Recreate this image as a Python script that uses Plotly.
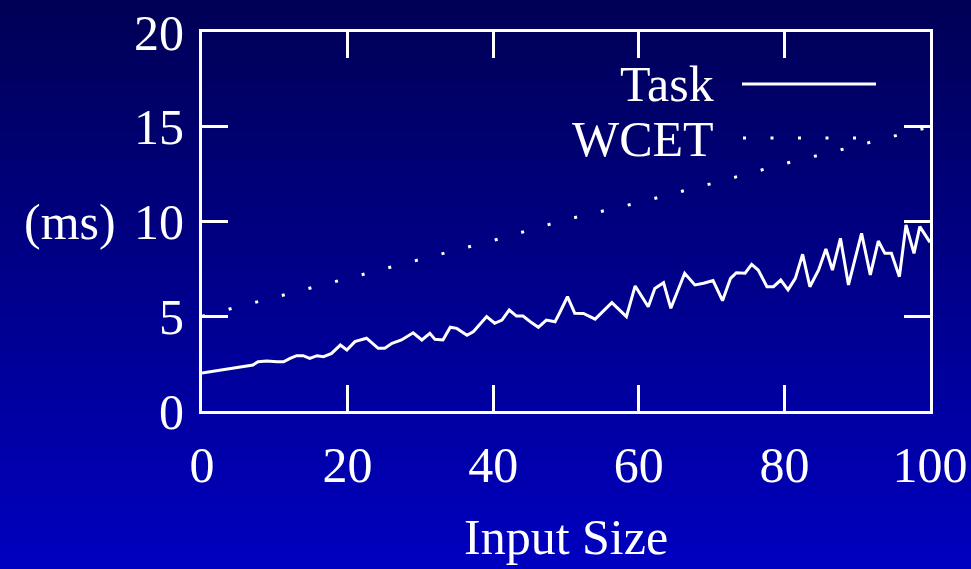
import base64
import struct
import zlib

import plotly.graph_objects as go

# ---------------- data ----------------
task_x = [0, 1.6, 2.5, 3.8, 5.2, 7.0, 7.7, 8.9, 10.3, 11.2,
          12.1, 13.0, 13.9, 14.8, 15.8, 16.7, 17.8, 19.0, 19.9, 21.0,
          22.6, 24.2, 25.1, 26.1, 27.4, 29.0, 30.2, 31.3, 32.0, 33.1,
          34.1, 35.0, 36.4, 37.3, 39.1, 40.2, 41.2, 42.2, 43.2, 44.1,
          45.1, 46.2, 47.3, 48.5, 49.2, 50.2, 51.2, 52.4, 54.0, 56.3,
          58.3, 59.5, 61.3, 62.2, 63.4, 64.4, 66.3, 67.7, 68.9, 70.2,
          71.5, 72.6, 73.4, 74.6, 75.5, 76.4, 77.6, 78.5, 79.5, 80.5,
          81.5, 82.5, 83.5, 84.7, 85.7, 86.6, 87.7, 88.8, 90.6, 91.8,
          92.9, 93.8, 94.7, 95.8, 96.7, 97.8, 98.6, 99.6, 100]
task_ms = [2.0, 2.1, 2.16, 2.25, 2.34, 2.43, 2.6, 2.64, 2.6, 2.6,
           2.78, 2.92, 2.92, 2.78, 2.92, 2.87, 3.04, 3.48, 3.22, 3.66,
           3.84, 3.31, 3.31, 3.57, 3.75, 4.13, 3.75, 4.1, 3.78, 3.75,
           4.42, 4.36, 4.0, 4.19, 4.98, 4.63, 4.8, 5.33, 5.01, 5.01,
           4.71, 4.42, 4.8, 4.71, 5.24, 6.03, 5.16, 5.15, 4.85, 5.72,
           4.98, 6.6, 5.5, 6.47, 6.77, 5.42, 7.27, 6.65, 6.74, 6.88,
           5.82, 7.0, 7.3, 7.27, 7.74, 7.44, 6.56, 6.56, 6.91, 6.39,
           7.0, 8.27, 6.56, 7.44, 8.55, 7.44, 9.11, 6.65, 9.38, 7.18,
           8.97, 8.32, 8.32, 7.09, 9.82, 8.32, 9.73, 9.11, 8.9]

wcet_x = [0, 10, 20, 30, 40, 50, 60, 70, 80, 90, 100]
wcet_ms = [5.0, 6.0, 7.0, 8.0, 9.0, 10.1, 11.0, 12.0, 13.05, 14.0, 15.0]

x_ticks = [0, 20, 40, 60, 80, 100]
y_ticks = [0, 5, 10, 15, 20]
series_names = ["Task", "WCET"]

# ---------------- styling ----------------
W, H = 971, 569
ML, MR, MT, MB = 202, 41, 32, 158
FONT = "Liberation Serif"
FS = 50
DOTS = "3px,24.5px"


def gradient_png(h, top, bottom, w=4):
    raw = b""
    for i in range(h):
        t = i / (h - 1)
        px = bytes(round(top[k] + (bottom[k] - top[k]) * t) for k in range(3))
        raw += b"\x00" + px * w

    def chunk(tag, data):
        return (struct.pack(">I", len(data)) + tag + data
                + struct.pack(">I", zlib.crc32(tag + data) & 0xFFFFFFFF))

    ihdr = struct.pack(">IIBBBBB", w, h, 8, 2, 0, 0, 0)
    png = (b"\x89PNG\r\n\x1a\n" + chunk(b"IHDR", ihdr)
           + chunk(b"IDAT", zlib.compress(raw)) + chunk(b"IEND", b""))
    return "data:image/png;base64," + base64.b64encode(png).decode()


pw = W - ML - MR
ph = H - MT - MB
px0 = -ML / pw
px1 = 1 + MR / pw
py0 = -MB / ph
py1 = 1 + MT / ph


def paper_x(p):
    return (p - ML) / pw


def paper_y(p):
    return (H - MB - p) / ph


fig = go.Figure()
fig.add_trace(go.Scatter(x=task_x, y=task_ms, mode="lines", name=series_names[0],
                         line=dict(color="white", width=3), showlegend=False))
fig.add_trace(go.Scatter(x=wcet_x, y=wcet_ms, mode="lines", name=series_names[1],
                         line=dict(color="white", width=3, dash=DOTS), showlegend=False))

axis_common = dict(showline=True, linecolor="white", linewidth=3, mirror="ticks",
                   ticks="inside", ticklen=26, tickwidth=3, tickcolor="white",
                   showgrid=False, zeroline=False, automargin=False,
                   tickfont=dict(family=FONT, size=FS, color="white"))

fig.update_xaxes(range=[0, 100], tickvals=x_ticks, ticktext=[str(v) for v in x_ticks],
                 ticklabelstandoff=8, **axis_common)
fig.update_yaxes(range=[0, 20], tickvals=y_ticks, ticktext=[str(v) for v in y_ticks],
                 ticklabelstandoff=5, **axis_common)

annotations = [
    dict(text="(ms)", xref="paper", yref="y", x=paper_x(118), y=10,
         xanchor="right", yanchor="middle", showarrow=False),
    dict(text="Input Size", xref="paper", yref="paper", x=0.5, y=paper_y(566),
         xanchor="center", yanchor="bottom", showarrow=False, borderpad=0),
    dict(text=series_names[0], xref="paper", yref="paper", x=paper_x(716), y=paper_y(84),
         xanchor="right", yanchor="middle", showarrow=False),
    dict(text=series_names[1], xref="paper", yref="paper", x=paper_x(716), y=paper_y(139),
         xanchor="right", yanchor="middle", showarrow=False),
]
for a in annotations:
    a["font"] = dict(family=FONT, size=FS, color="white")

shapes = [
    dict(type="line", xref="paper", yref="paper", x0=paper_x(742), x1=paper_x(876),
         y0=paper_y(84), y1=paper_y(84), line=dict(color="white", width=3)),
    dict(type="line", xref="paper", yref="paper", x0=paper_x(743), x1=paper_x(878),
         y0=paper_y(138), y1=paper_y(138), line=dict(color="white", width=3, dash=DOTS)),
]

fig.update_layout(
    width=W, height=H,
    margin=dict(l=ML, r=MR, t=MT, b=MB, pad=0, autoexpand=False),
    paper_bgcolor="#000090",
    plot_bgcolor="rgba(0,0,0,0)",
    showlegend=False,
    annotations=annotations,
    shapes=shapes,
    images=[dict(source=gradient_png(H, (0, 0, 85), (0, 0, 192)),
                 xref="paper", yref="paper", x=px0, y=py1,
                 sizex=px1 - px0, sizey=py1 - py0,
                 xanchor="left", yanchor="top", sizing="stretch", layer="below")],
)

fig.write_html(
    "out.html",
    config={"displayModeBar": False},
    post_script="document.documentElement.style.margin='0';"
                "document.body.style.margin='0';"
                "document.body.style.overflow='hidden';",
)
